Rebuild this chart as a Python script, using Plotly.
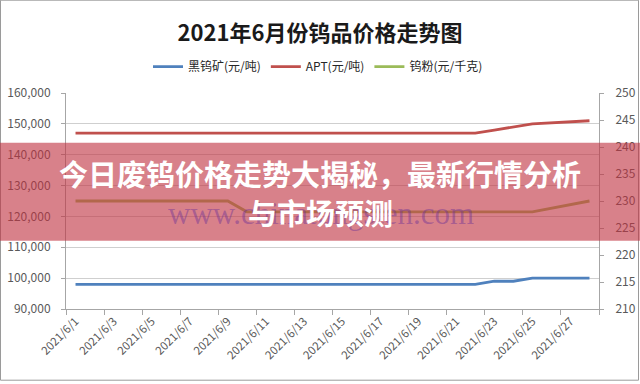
import plotly.graph_objects as go

# ---- data ----
dates = ["2021-06-01", "2021-06-02", "2021-06-03", "2021-06-04", "2021-06-07",
         "2021-06-08", "2021-06-09", "2021-06-10", "2021-06-11", "2021-06-15",
         "2021-06-16", "2021-06-17", "2021-06-18", "2021-06-21", "2021-06-22",
         "2021-06-23", "2021-06-24", "2021-06-25", "2021-06-28"]
wolframite = [98000, 98000, 98000, 98000, 98000, 98000, 98000, 98000, 98000, 98000,
              98000, 98000, 98000, 98000, 98000, 99000, 99000, 100000, 100000]
apt = [147000, 147000, 147000, 147000, 147000, 147000, 147000, 147000, 147000, 147000,
       147000, 147000, 147000, 147000, 147000, 148000, 149000, 150000, 151000]
powder = [230, 230, 230, 230, 230, 230, 230, 228, 228, 228,
          228, 228, 228, 228, 228, 228, 228, 228, 230]
tick_dates = ["2021-06-%02d" % d for d in range(1, 28, 2)]
tick_labels = ["2021/6/%d" % d for d in range(1, 28, 2)]

series_names = ["黑钨矿(元/吨)", "APT(元/吨)", "钨粉(元/千克)"]
title_text = "2021年6月份钨品价格走势图"
banner_line1 = "今日废钨价格走势大揭秘，最新行情分析"
banner_line2 = "与市场预测"
watermark = "www.chinatungsten.com"

# ---- layout geometry (pixels) ----
W, H = 640, 384
L, R, T, B = 66, 599, 93.3, 309.3
pw, ph = R - L, B - T


def px(x):
    return (x - L) / pw


def py(y):
    return (B - y) / ph


CJK = "Noto Sans CJK SC, Noto Sans, sans-serif"
grey_txt = "#595959"
axis_col = "#a6a6a6"

fig = go.Figure()
fig.add_trace(go.Scatter(x=dates, y=wolframite, name=series_names[0], mode="lines",
                         line=dict(color="#4F81BD", width=2.8), yaxis="y"))
fig.add_trace(go.Scatter(x=dates, y=apt, name=series_names[1], mode="lines",
                         line=dict(color="#C0504D", width=2.8), yaxis="y"))
fig.add_trace(go.Scatter(x=dates, y=powder, name=series_names[2], mode="lines",
                         line=dict(color="#9BBB59", width=2.8), yaxis="y2"))

fig.update_layout(
    width=W, height=H,
    margin=dict(l=L, r=W - R, t=T, b=H - B, autoexpand=False),
    paper_bgcolor="white", plot_bgcolor="white",
    font=dict(family=CJK, size=12, color=grey_txt),
    title=dict(text="<b>" + title_text + "</b>", x=0.5, xanchor="center",
               y=1 - 33 / H, yanchor="middle",
               font=dict(family=CJK, size=22, color="#1a1a1a")),
    legend=dict(orientation="h", x=px(318), xanchor="center", y=py(67), yanchor="middle",
                font=dict(family=CJK, size=12, color="#262626"),
                bgcolor="rgba(0,0,0,0)"),
    showlegend=True,
    xaxis=dict(type="date", range=["2021-05-31 12:00", "2021-06-28 12:00"],
               tickmode="array", tickvals=tick_dates, ticktext=tick_labels,
               tickangle=-45, ticks="", showgrid=False, zeroline=False,
               showline=True, linecolor=axis_col, linewidth=1, automargin=False,
               tickfont=dict(size=11.5, color=grey_txt, family=CJK),
               minor=dict(ticks="outside", ticklen=5, tickcolor=axis_col,
                          tickmode="linear", tick0="2021-05-31 12:00",
                          dtick=2 * 86400000, showgrid=False)),
    yaxis=dict(range=[90000, 160000], dtick=10000, tickformat=",d",
               showgrid=True, gridcolor="#cfcfcf", gridwidth=1, zeroline=False,
               showline=True, linecolor=axis_col, ticks="outside", ticklen=4,
               tickcolor=axis_col, ticklabelstandoff=8, automargin=False,
               tickfont=dict(size=12, color=grey_txt)),
    yaxis2=dict(range=[210, 250], dtick=5, overlaying="y", side="right",
                showgrid=False, zeroline=False, showline=True, linecolor=axis_col,
                ticks="outside", ticklen=4, tickcolor=axis_col, ticklabelstandoff=9,
                automargin=False, tickfont=dict(size=12, color=grey_txt)),
)

# outer chart border
fig.add_shape(type="rect", xref="paper", yref="paper",
              x0=px(0.5), x1=px(638.5), y0=py(380.5), y1=py(0.5),
              line=dict(color="#9a9a9a", width=1), fillcolor="rgba(0,0,0,0)",
              layer="below")

# watermark text
fig.add_annotation(text=watermark, xref="paper", yref="paper", x=px(321), y=py(214),
                   showarrow=False, xanchor="center", yanchor="middle",
                   font=dict(family="Liberation Serif, DejaVu Serif, serif", size=31,
                             color="rgba(110,50,150,0.45)"))

# red banner overlay
fig.add_shape(type="rect", xref="paper", yref="paper",
              x0=px(-2), x1=px(642), y0=py(241), y1=py(143),
              line=dict(width=0), fillcolor="rgba(192,52,66,0.62)", layer="above")

fig.add_annotation(text="<b>" + banner_line1 + "</b>", xref="paper", yref="paper",
                   x=px(320), y=py(173), showarrow=False, xanchor="center",
                   yanchor="middle", font=dict(family=CJK, size=29, color="white"))
fig.add_annotation(text="<b>" + banner_line2 + "</b>", xref="paper", yref="paper",
                   x=px(320), y=py(212), showarrow=False, xanchor="center",
                   yanchor="middle", font=dict(family=CJK, size=29, color="white"))

fig.write_html("out.html", config={"displayModeBar": False},
               post_script="document.body.style.margin='0';document.body.style.overflow='hidden';")
